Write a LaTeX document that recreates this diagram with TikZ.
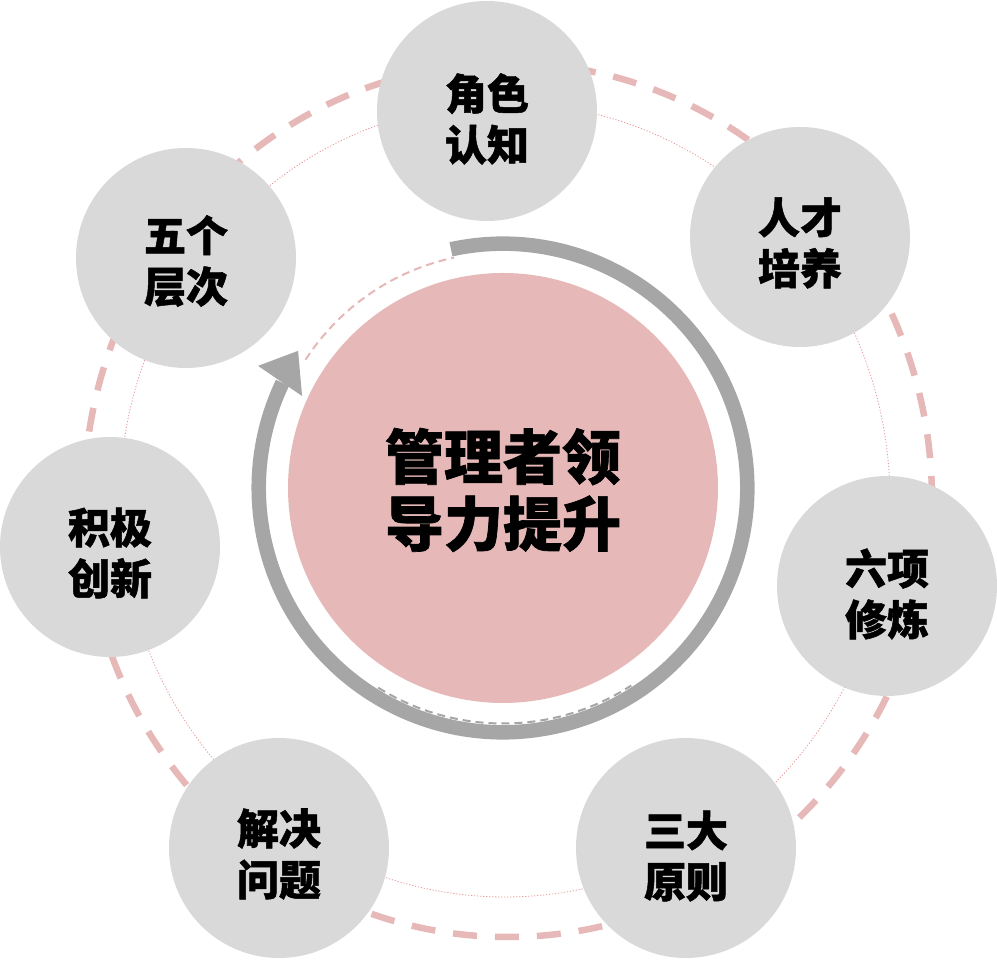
\documentclass[tikz,border=0pt]{standalone}
\usepackage{fontspec}
\newfontfamily\cjk{Noto Sans CJK SC}[BoldFeatures={FakeBold=1.2}]
\definecolor{petalgray}{HTML}{D9D9D9}
\definecolor{hubpink}{HTML}{E6B9B8}
\definecolor{ringgray}{HTML}{A6A6A6}
\definecolor{dotpink}{HTML}{E89A9A}
\tikzset{
  petal/.style={circle, fill=petalgray, minimum size=220pt, inner sep=0pt},
  petaltext/.style={align=center, text=black, inner sep=0pt,
    font=\cjk\bfseries\fontsize{42}{51}\selectfont},
  hub/.style={circle, fill=hubpink, minimum size=430pt, inner sep=0pt},
  hubtext/.style={align=center, text=black, inner sep=0pt,
    font=\cjk\bfseries\fontsize{59}{67}\selectfont},
  outerdash/.style={draw=hubpink, line width=6.5pt, dash pattern=on 24pt off 18pt},
  thindots/.style={draw=dotpink, line width=0.8pt, dash pattern=on 1.2pt off 1.8pt},
  ringband/.style={draw=ringgray, line width=14.5pt},
  innerdash/.style={line width=2pt, dash pattern=on 8pt off 5pt},
}
\begin{document}
\begin{tikzpicture}[x=1pt,y=1pt]
\useasboundingbox (0,0) rectangle (997,963);
\fill[white] (0,0) rectangle (997,963);
% outer dashed ring and thin dotted orbit
\coordinate (ringc) at (508,463);
\coordinate (orbitc) at (505,463);
\draw[outerdash] (ringc) ellipse[x radius=424, y radius=437];
\draw[thindots] (orbitc) ellipse[x radius=385, y radius=397];
% petals
\node[petal] (p1) at (487,852) {};
\node[petal] (p2) at (800,726) {};
\node[petal] (p3) at (887,377) {};
\node[petal] (p4) at (686,115) {};
\node[petal] (p5) at (279,115) {};
\node[petal] (p6) at (110,416) {};
\node[petal] (p7) at (186,705) {};
\node[petaltext] (t1) at ([yshift=-8pt]p1.center) {角色\\认知};
\node[petaltext] (t2) at ([yshift=-6pt]p2.center) {人才\\培养};
\node[petaltext] (t3) at ([yshift=-8pt]p3.center) {六项\\修炼};
\node[petaltext] (t4) at ([yshift=-8pt]p4.center) {三大\\原则};
\node[petaltext] (t5) at ([yshift=-6pt]p5.center) {解决\\问题};
\node[petaltext] (t6) at ([yshift=-6pt]p6.center) {积极\\创新};
\node[petaltext] (t7) at ([yshift=-3pt]p7.center) {五个\\层次};
% hub
\node[hub] (hub) at (503,475) {};
\node[hubtext] (ht) at ([yshift=-2pt]hub.center) {管理者领\\导力提升};
% cycle arrow
\draw[ringband] ([shift={(102.3:244.3)}]hub.center) arc[start angle=102.3, end angle=-205.5, radius=244.3];
\fill[ringgray] ([shift={(146.2:246.6)}]hub.center) -- ([shift={(153.5:273.7)}]hub.center) -- ([shift={(155.4:221)}]hub.center) -- cycle;
\draw[innerdash, draw=hubpink] ([shift={(147:235.5)}]hub.center) arc[start angle=147, end angle=102, radius=235.5];
\draw[innerdash, draw=ringgray] ([shift={(-122:235.5)}]hub.center) arc[start angle=-122, end angle=-57, radius=235.5];
\end{tikzpicture}
\end{document}
